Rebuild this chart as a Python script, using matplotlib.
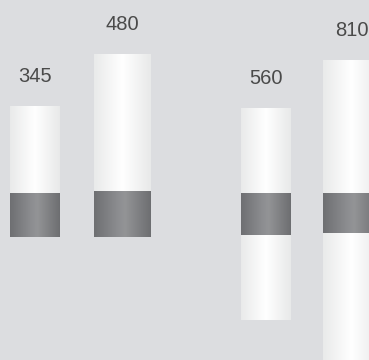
import numpy as np
import matplotlib
matplotlib.use("Agg")
import matplotlib.pyplot as plt
from matplotlib.colors import LinearSegmentedColormap

# values (y in chart units, 0 = bottom of the frame)
labels = ["345", "480", "560", "810"]
bar_top = [254, 306, 252, 300]
bar_bottom = [123, 123, 40, -40]
band_low = [123, 123, 125, 127]
band_high = [167, 169, 167, 167]

# layout
centers = [35, 122.5, 266, 351.5]
widths = [50, 57, 50, 57]

bg = "#dcdde0"
light = LinearSegmentedColormap.from_list(
    "light", [(0, "#e9eaea"), (0.5, "#ffffff"), (1, "#e8e9e9")])
dark = LinearSegmentedColormap.from_list(
    "dark", [(0, "#6e6f72"), (0.45, "#8e8f92"), (0.55, "#939496"), (1, "#6d6e71")])
grad = np.linspace(0, 1, 256)[None, :]

fig = plt.figure(figsize=(3.69, 3.60), dpi=100, facecolor=bg)
ax = fig.add_axes([0, 0, 1, 1])
ax.set_facecolor(bg)

for i in range(len(labels)):
    x0 = centers[i] - widths[i] / 2
    x1 = centers[i] + widths[i] / 2
    ax.imshow(grad, extent=(x0, x1, bar_bottom[i], bar_top[i]), cmap=light,
              aspect="auto", interpolation="bicubic", zorder=2)
    ax.imshow(grad, extent=(x0, x1, band_low[i], band_high[i]), cmap=dark,
              aspect="auto", interpolation="bicubic", zorder=3)
    ax.annotate(labels[i], (centers[i], bar_top[i]), xytext=(0, 21.5),
                textcoords="offset points", ha="center", va="center",
                fontsize=14.5, color="#4a4a4a", family="Liberation Sans")

ax.set_xlim(0, 369)
ax.set_ylim(0, 360)
ax.axis("off")

fig.savefig("out.png", dpi=100, facecolor=bg)
